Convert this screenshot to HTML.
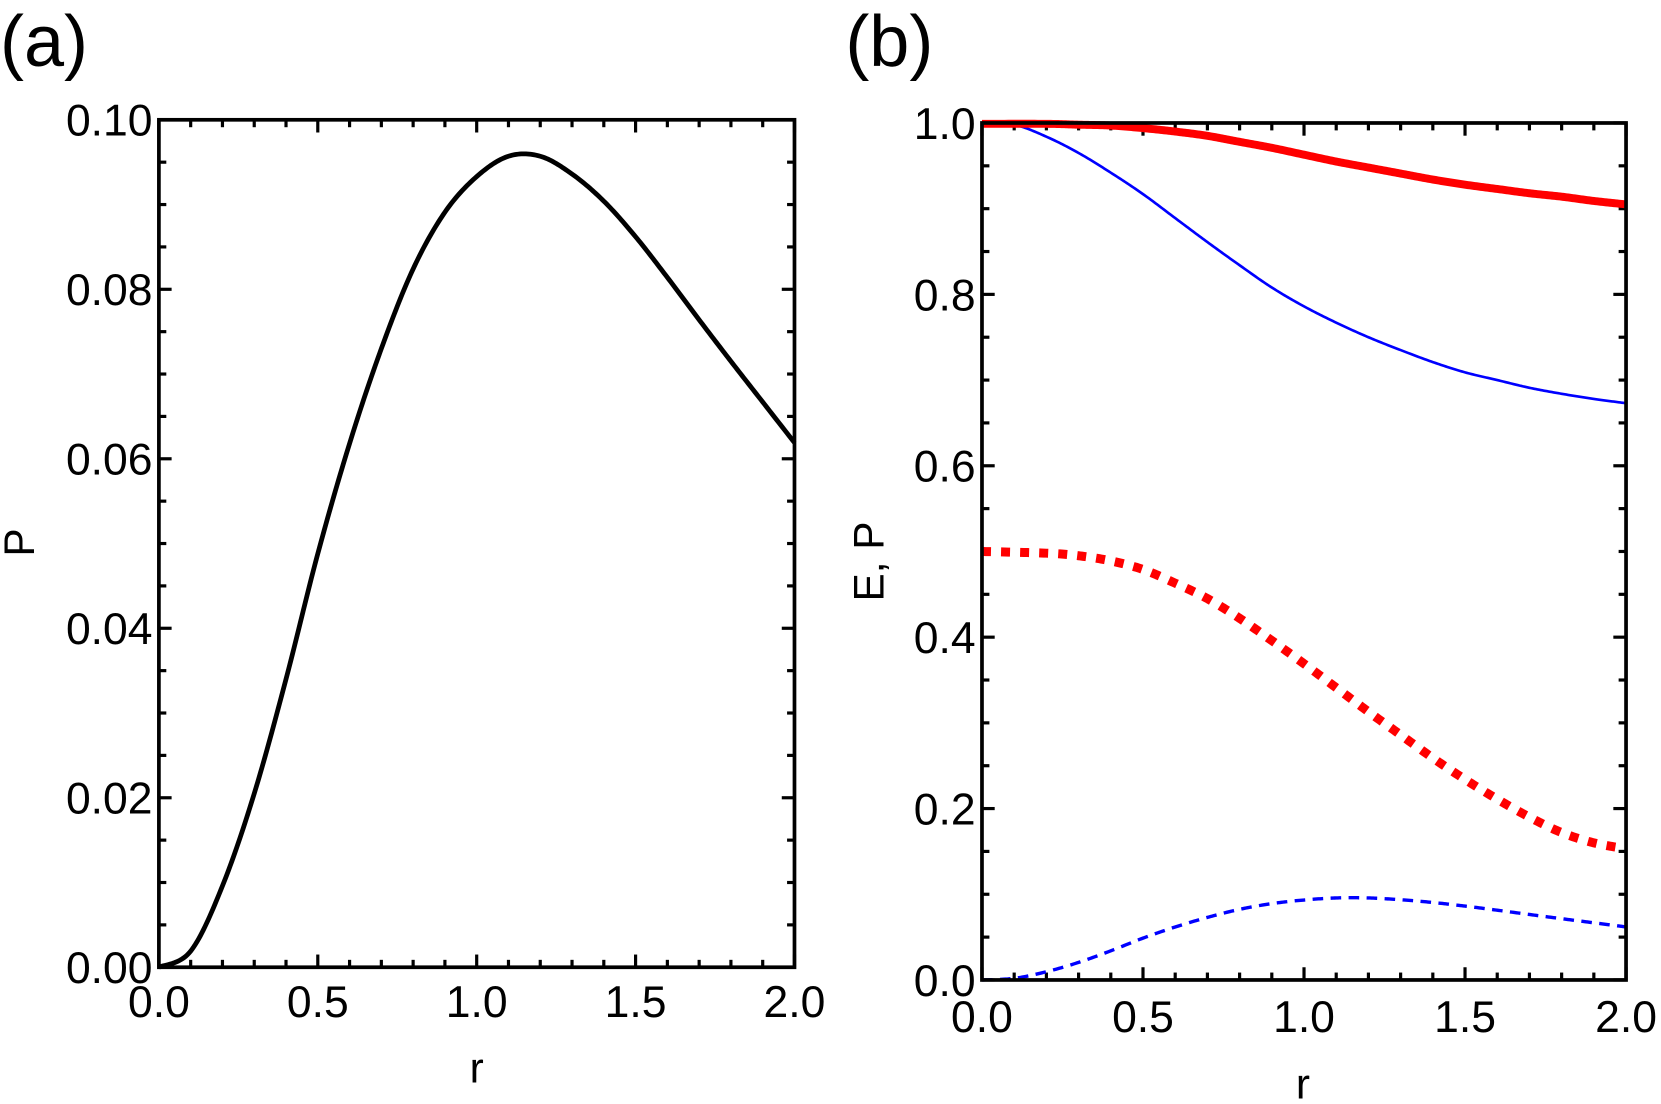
<!DOCTYPE html>
<html><head><meta charset="utf-8"><style>
html,body{margin:0;padding:0;background:#fff;}
svg{display:block;}
text{font-family:"Liberation Sans",Arial,sans-serif;fill:#000;}
</style></head><body>
<svg id="s" width="1661" height="1104" viewBox="0 0 1568 1042" xmlns="http://www.w3.org/2000/svg">
<text x="0" y="62" font-size="68">(a)</text>
<text x="798" y="62" font-size="68">(b)</text>
<text x="450" y="1022" font-size="40" text-anchor="middle">r</text>
<text x="1230" y="1037" font-size="40" text-anchor="middle">r</text>
<text transform="translate(32,512) rotate(-90)" font-size="40" text-anchor="middle">P</text>
<text transform="translate(834,530) rotate(-90)" font-size="40" text-anchor="middle">E, P</text>
<g id="g"></g>
</svg>
<script>
var NS="http://www.w3.org/2000/svg",g=document.getElementById('g');
function el(t,a,txt){var e=document.createElementNS(NS,t);for(var k in a)e.setAttribute(k,a[k]);if(txt!==undefined)e.textContent=txt;g.appendChild(e);return e;}
function cr(pts,fx,fy){
  var out=[];
  for(var i=0;i<pts.length-1;i++){
    var p0=pts[Math.max(i-1,0)],p1=pts[i],p2=pts[i+1],p3=pts[Math.min(i+2,pts.length-1)];
    for(var t=0;t<1;t+=0.05){
      var t2=t*t,t3=t2*t;
      var x=0.5*((2*p1[0])+(-p0[0]+p2[0])*t+(2*p0[0]-5*p1[0]+4*p2[0]-p3[0])*t2+(-p0[0]+3*p1[0]-3*p2[0]+p3[0])*t3);
      var y=0.5*((2*p1[1])+(-p0[1]+p2[1])*t+(2*p0[1]-5*p1[1]+4*p2[1]-p3[1])*t2+(-p0[1]+3*p1[1]-3*p2[1]+p3[1])*t3);
      out.push(fx(x).toFixed(2)+","+fy(y).toFixed(2));
    }
  }
  var l=pts[pts.length-1];out.push(fx(l[0]).toFixed(2)+","+fy(l[1]).toFixed(2));
  return "M"+out.join(" L");
}
var Pd=[[0,0],[0.1,0.0019],[0.2,0.0096],[0.3,0.0205],[0.4,0.034],[0.5,0.0488],[0.6,0.0618],[0.7,0.073],[0.8,0.0824],[0.9,0.0891],[1.0,0.0933],[1.1,0.0957],[1.2,0.0957],[1.3,0.0936],[1.4,0.0904],[1.5,0.0862],[1.6,0.0814],[1.7,0.0764],[1.8,0.0715],[1.9,0.0667],[2,0.0619]];
function axes(L,T,R,B,xmax,ymax,ymaj,ymin,ylabels,xlabY){
  for(var i=0;i<=20;i++){var v=i*0.1,x=L+(R-L)*v/xmax,maj=i%5==0,len=maj?12:7;
    el('line',{x1:x,y1:B,x2:x,y2:B-len,stroke:'#000','stroke-width':3});
    el('line',{x1:x,y1:T,x2:x,y2:T+len,stroke:'#000','stroke-width':3});
    if(maj) el('text',{x:x,y:xlabY,'font-size':42,'text-anchor':'middle'},v.toFixed(1));}
  var n=Math.round(ymax/ymin),m=Math.round(ymaj/ymin);
  for(var i=0;i<=n;i++){var v=i*ymin,y=B-(B-T)*v/ymax,maj=i%m==0,len=maj?12:7;
    el('line',{x1:L,y1:y,x2:L+len,y2:y,stroke:'#000','stroke-width':3});
    el('line',{x1:R,y1:y,x2:R-len,y2:y,stroke:'#000','stroke-width':3});
    if(maj) el('text',{x:L-6,y:y+15,'font-size':42,'text-anchor':'end'},ylabels(v));}
}
(function(){var L=150,T=113,R=750,B=913;
 axes(L,T,R,B,2,0.1,0.02,0.005,function(v){return v.toFixed(2)},960);
 el('path',{d:cr(Pd,function(x){return L+300*x},function(y){return B-8000*y}),fill:'none',stroke:'#000','stroke-width':4.5});
 el('rect',{x:L,y:T,width:R-L,height:B-T,fill:'none',stroke:'#000','stroke-width':3.5});
})();
(function(){var L=927,T=116,R=1535,B=925;
 axes(L,T,R,B,2,1,0.2,0.05,function(v){return v.toFixed(1)},974);
 var fx=function(x){return L+304*x},fy=function(y){return B-809*y};
 var blue=[[0,1],[0.1,0.998],[0.2,0.984],[0.3,0.965],[0.4,0.942],[0.5,0.917],[0.6,0.889],[0.7,0.861],[0.8,0.834],[0.9,0.808],[1.0,0.786],[1.1,0.767],[1.2,0.75],[1.3,0.735],[1.4,0.721],[1.5,0.709],[1.6,0.70],[1.7,0.691],[1.8,0.684],[1.9,0.678],[2,0.673]];
 var red=[[0,0.999],[0.2,0.999],[0.3,0.998],[0.4,0.997],[0.5,0.994],[0.6,0.99],[0.7,0.985],[0.8,0.978],[0.9,0.971],[1.0,0.963],[1.1,0.955],[1.2,0.948],[1.3,0.941],[1.4,0.934],[1.5,0.928],[1.6,0.923],[1.7,0.918],[1.8,0.914],[1.9,0.909],[2,0.905]];
 var rd=[[0,0.5],[0.2,0.498],[0.3,0.495],[0.4,0.489],[0.5,0.479],[0.6,0.463],[0.7,0.445],[0.8,0.422],[0.9,0.396],[1.0,0.369],[1.1,0.341],[1.2,0.313],[1.3,0.286],[1.4,0.259],[1.5,0.234],[1.6,0.211],[1.7,0.19],[1.8,0.172],[1.9,0.16],[2,0.153]];
 el('path',{d:cr(rd,fx,fy),fill:'none',stroke:'#f00','stroke-width':8.5,'stroke-dasharray':'8.5 9.5'});
 el('path',{d:cr(Pd,fx,fy),fill:'none',stroke:'#00f','stroke-width':3.2,'stroke-dasharray':'10 7'});
 el('path',{d:cr(blue,fx,fy),fill:'none',stroke:'#00f','stroke-width':2.5});
 el('path',{d:cr(red,fx,fy),fill:'none',stroke:'#f00','stroke-width':7.5});
 el('rect',{x:L,y:T,width:R-L,height:B-T,fill:'none',stroke:'#000','stroke-width':3.5});
})();
</script>
</body></html>
